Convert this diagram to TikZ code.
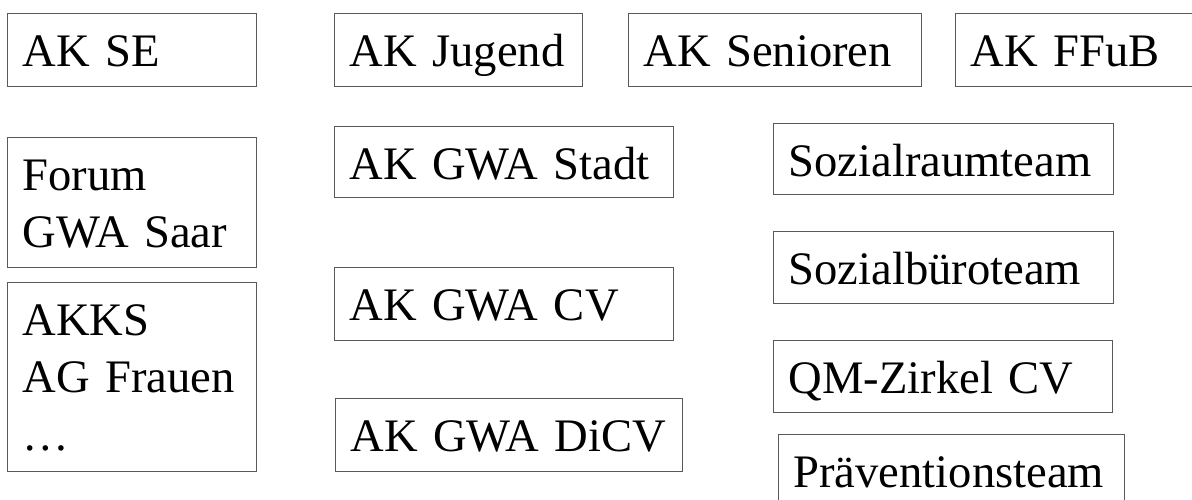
\documentclass[tikz,border=0pt]{standalone}
\usepackage{fontspec}
\setmainfont{Liberation Serif}
\tikzset{
  bx/.style={draw=black!65, line width=1pt, anchor=north west, inner xsep=15pt, inner ysep=0pt,
    align=left, text height=36pt, font=\fontsize{46.6}{57.3}\selectfont}
}
\begin{document}
\begin{tikzpicture}[x=1pt,y=-1pt]
\useasboundingbox (0,0) rectangle (1192,499);
% top row
\node[bx, text width=219pt, minimum height=73pt, text depth=3pt] (se) at (7,13) {AK SE};
\node[bx, text width=218pt, minimum height=73pt, text depth=3pt] (jugend) at (334,13) {AK Jugend};
\node[bx, text width=263pt, minimum height=73pt, text depth=3pt] (senioren) at (628,13) {AK Senioren};
\node[bx, text width=215pt, minimum height=73pt, text depth=3pt] (ffub) at (955,13) {AK FFuB};
% left column
\node[bx, text width=219pt, minimum height=130pt, text depth=60pt] (forum) at (7,137) {Forum\\GWA Saar};
\node[bx, text width=219pt, minimum height=189pt, text depth=119pt] (akks) at (7,282) {AKKS\\AG Frauen\\…};
% middle column
\node[bx, text width=309pt, minimum height=71pt, text depth=1pt] (stadt) at (334,126) {AK GWA Stadt};
\node[bx, text width=309pt, minimum height=73pt, text depth=3pt] (cv) at (334,267) {AK GWA CV};
\node[bx, text width=317pt, minimum height=73pt, text depth=3pt] (dicv) at (335,398) {AK GWA DiCV};
% right column
\node[bx, text width=310pt, minimum height=71pt, text depth=1pt] (sozialraum) at (773,123) {Sozialraumteam};
\node[bx, text width=310pt, minimum height=72pt, text depth=2pt] (sozialbuero) at (773,231) {Sozialbüroteam};
\node[bx, text width=309pt, minimum height=72pt, text depth=2pt] (qm) at (773,340) {QM-Zirkel CV};
\node[bx, text width=316pt, minimum height=73pt, text depth=3pt] (praev) at (778,434) {Präventionsteam};
\end{tikzpicture}
\end{document}
